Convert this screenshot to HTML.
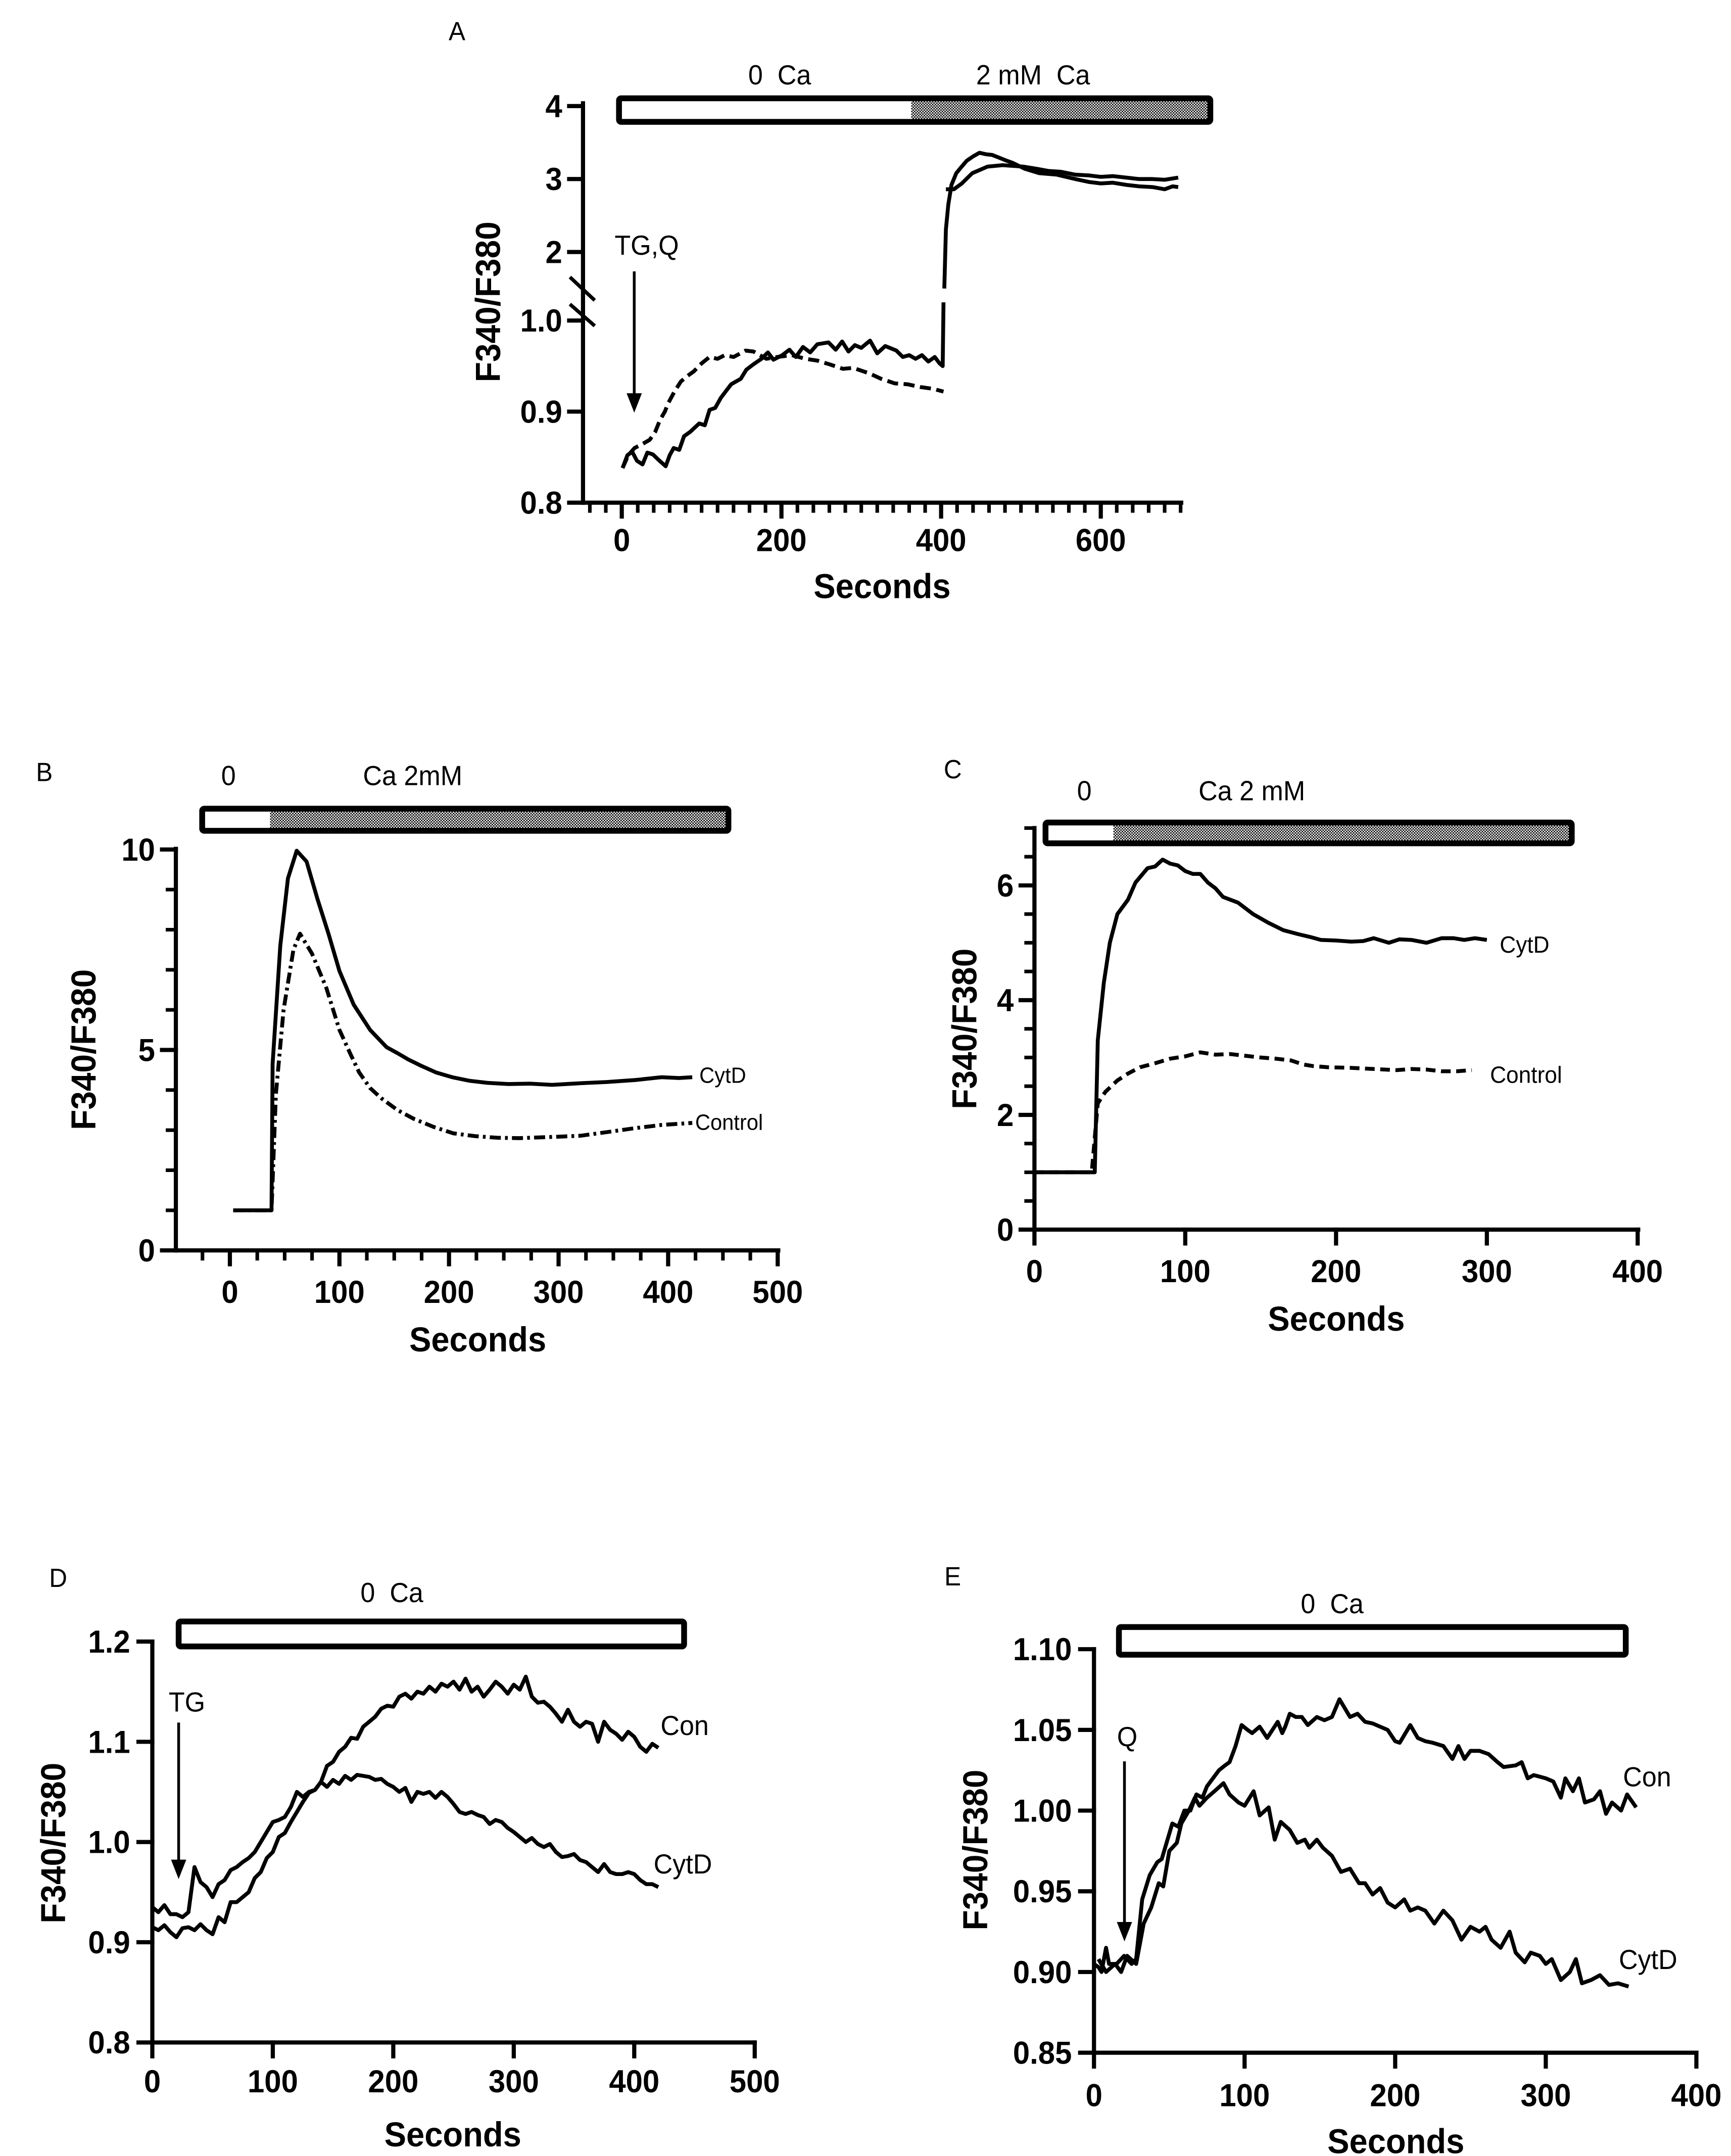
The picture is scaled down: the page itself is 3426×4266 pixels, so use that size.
<!DOCTYPE html>
<html><head><meta charset="utf-8"><title>Fura-2 ratio panels</title>
<style>
html,body{margin:0;padding:0;background:#fff;}
svg{display:block;}
text{font-family:"Liberation Sans Narrow","Liberation Sans",Arial,sans-serif;fill:#000;}
.tick{font-weight:bold;font-size:23px;}
.title{font-weight:bold;font-size:25px;}
.ann{font-size:20px;white-space:pre;}
.letter{font-size:19px;font-family:"Liberation Sans",Arial,sans-serif;}
</style></head>
<body>
<svg id="fig" xmlns="http://www.w3.org/2000/svg" width="3426" height="4266" viewBox="0 0 1250 1557" preserveAspectRatio="none">
<defs>
<pattern id="chk" width="2" height="2" patternUnits="userSpaceOnUse">
<rect width="2" height="2" fill="#fff"/><rect width="1" height="1" fill="#000"/><rect x="1" y="1" width="1" height="1" fill="#000"/>
</pattern>
</defs>
</svg>
<script>
// ---------- Panel A data ----------
const aSolidLowT=[1,7,13,19,26,32,39,46,55,60,65,72,78,86,97,104,110,117,124,130,137,149,156,165,175,183,190,201,210,218,227,236,245,259,268,276,284,292,300,311,320,330,344,352,360,368,376,384,392,398,402,403];
const aSolidLowV=[0.838,0.852,0.856,0.846,0.842,0.855,0.853,0.847,0.84,0.852,0.86,0.858,0.873,0.878,0.887,0.885,0.902,0.904,0.915,0.922,0.93,0.936,0.946,0.952,0.958,0.965,0.957,0.962,0.968,0.96,0.971,0.965,0.974,0.976,0.968,0.977,0.966,0.973,0.97,0.978,0.964,0.972,0.967,0.96,0.962,0.958,0.962,0.955,0.96,0.953,0.95,1.02];
const aSolidUpT=[404,406,409,413,419,425,432,440,448,456,464,471,480,490,505,523,545,568,585,600,615,632,648,665,680,690,697];
const aSolidUpV=[1.5,2.31,2.65,2.92,3.08,3.16,3.25,3.31,3.36,3.34,3.33,3.3,3.26,3.22,3.14,3.08,3.06,3.0,2.96,2.94,2.95,2.92,2.9,2.89,2.86,2.9,2.89];
const aDashLowT=[1,8,16,25,35,42,48,54,58,66,74,82,90,100,110,120,129,140,155,165,181,195,213,230,245,260,277,290,310,325,342,358,374,390,403];
const aDashLowV=[0.838,0.852,0.86,0.864,0.869,0.878,0.891,0.9,0.909,0.922,0.933,0.939,0.944,0.953,0.96,0.958,0.962,0.96,0.967,0.966,0.958,0.96,0.962,0.958,0.956,0.952,0.947,0.948,0.942,0.936,0.931,0.93,0.927,0.925,0.922];
const aDashUpT=[406,416,426,439,458,477,503,520,535,550,568,585,600,615,632,648,665,680,697];
const aDashUpV=[2.86,2.86,2.94,3.08,3.17,3.19,3.17,3.14,3.11,3.1,3.06,3.05,3.03,3.04,3.02,3.0,3.0,2.99,3.02];
const aTicksLow=[0.8,0.9,1.0]; const aTicksLowLbl=["0.8","0.9","1.0"];
const aTicksUp=[2,3,4]; const aTicksUpLbl=["2","3","4"];
const aXTicks=[0,200,400,600];
// ---------- Panel B data ----------
const bCytT=[3,38,39,46,53,61,70,80,90,100,113,128,143,153,163,175,188,203,219,235,254,274,294,320,344,370,394,410,422];
const bCytV=[1,1,4.65,7.6,9.28,9.97,9.7,8.76,7.9,6.97,6.13,5.5,5.07,4.92,4.76,4.6,4.44,4.32,4.23,4.18,4.15,4.16,4.13,4.17,4.2,4.25,4.32,4.3,4.32];
const bConT=[3,38,42,49,58,64,75,88,100,110,118,128,138,153,168,186,204,224,244,264,294,320,344,370,394,422];
const bConV=[1,1,3.9,6.0,7.5,7.9,7.4,6.55,5.5,4.9,4.44,4.05,3.8,3.5,3.28,3.08,2.92,2.85,2.81,2.8,2.83,2.86,2.95,3.05,3.13,3.18];
const bYTicks=[0,5,10]; const bXTicks=[0,100,200,300,400,500];
// ---------- Panel C data ----------
const cCytT=[0,40,42,46,50,55,62,67,75,80,85,90,95,100,105,110,115,120,125,135,145,155,165,175,183,190,200,210,218,225,235,242,250,260,270,278,285,292,300];
const cCytV=[1,1,3.3,4.3,5.0,5.5,5.75,6.05,6.3,6.33,6.45,6.38,6.35,6.25,6.2,6.2,6.05,5.95,5.8,5.7,5.5,5.35,5.22,5.15,5.1,5.05,5.04,5.02,5.03,5.08,5.0,5.06,5.05,5.0,5.08,5.08,5.05,5.08,5.05];
const cConT=[0,38,40,42,47,55,62,70,80,90,100,110,120,130,140,150,160,170,178,185,195,210,225,240,250,260,270,280,290];
const cConV=[1,1,1.6,2.2,2.4,2.6,2.72,2.83,2.9,2.98,3.02,3.09,3.05,3.06,3.03,3.0,2.98,2.95,2.88,2.85,2.83,2.82,2.8,2.78,2.8,2.79,2.76,2.76,2.78];
const cYTicks=[0,2,4,6]; const cXTicks=[0,100,200,300,400];
// ---------- Panel D data ----------
const dConT=[0,5,10,15,20,25,30,35,40,45,50,55,60,65,70,75,80,85,90,95,100,105,110,115,120,125,130,135,140,145,150,155,160,165,170,175,180,185,190,195,200,205,210,215,220,225,230,235,240,245,250,255,260,265,270,275,280,285,290,295,300,305,310,315,320,325,330,335,340,345,350,355,360,365,370,375,380,385,390,395,400,405,410,415,420];
const dConV=[0.915,0.912,0.917,0.91,0.905,0.914,0.915,0.912,0.918,0.912,0.908,0.925,0.92,0.94,0.94,0.945,0.95,0.964,0.97,0.984,0.99,1.005,1.009,1.02,1.03,1.04,1.049,1.052,1.06,1.076,1.08,1.09,1.095,1.104,1.103,1.115,1.12,1.125,1.133,1.136,1.135,1.145,1.148,1.143,1.15,1.148,1.155,1.15,1.158,1.155,1.16,1.152,1.163,1.15,1.155,1.145,1.152,1.16,1.155,1.148,1.157,1.152,1.165,1.145,1.139,1.14,1.135,1.128,1.12,1.132,1.12,1.115,1.12,1.118,1.1,1.12,1.112,1.108,1.102,1.11,1.105,1.095,1.09,1.098,1.094];
const dCytT=[0,5,10,15,20,25,30,35,40,45,50,55,60,65,70,75,80,85,90,95,100,105,110,115,120,125,130,135,140,145,150,155,160,165,170,175,180,185,190,195,200,205,210,215,220,225,230,235,240,245,250,255,260,265,270,275,280,285,290,295,300,305,310,315,320,325,330,335,340,345,350,355,360,365,370,375,380,385,390,395,400,405,410,415,420];
const dCytV=[0.935,0.93,0.937,0.928,0.928,0.925,0.93,0.975,0.96,0.955,0.945,0.958,0.962,0.972,0.975,0.98,0.984,0.99,1.0,1.01,1.02,1.022,1.025,1.035,1.05,1.045,1.05,1.052,1.06,1.055,1.062,1.058,1.066,1.062,1.067,1.066,1.065,1.062,1.063,1.058,1.055,1.05,1.054,1.04,1.05,1.048,1.05,1.044,1.05,1.045,1.038,1.03,1.028,1.03,1.027,1.025,1.018,1.022,1.02,1.014,1.01,1.005,1.0,1.004,0.998,0.995,0.998,0.99,0.985,0.986,0.988,0.982,0.98,0.975,0.97,0.978,0.97,0.968,0.968,0.97,0.968,0.962,0.958,0.958,0.955];
const dYTicks=[0.8,0.9,1.0,1.1,1.2]; const dYLbl=["0.8","0.9","1.0","1.1","1.2"];
const dXTicks=[0,100,200,300,400,500];
// ---------- Panel E data ----------
const eConT=[0,3,5,8,10,15,20,25,28,32,37,42,45,52,56,60,64,68,72,75,79,83,87,90,94,98,102,105,110,115,122,125,127,130,134,138,142,148,153,158,163,170,175,180,185,190,195,200,203,210,215,220,225,232,238,242,246,250,256,262,268,272,280,284,288,292,300,305,310,313,318,322,326,332,336,340,344,350,354,360];
const eConV=[0.905,0.903,0.9,0.915,0.905,0.905,0.91,0.905,0.908,0.945,0.96,0.968,0.97,0.992,0.99,1.0,1.0,1.01,1.008,1.015,1.02,1.025,1.028,1.03,1.04,1.053,1.05,1.048,1.052,1.045,1.055,1.048,1.052,1.06,1.058,1.058,1.053,1.058,1.056,1.058,1.069,1.058,1.06,1.055,1.054,1.052,1.05,1.043,1.042,1.053,1.045,1.043,1.042,1.04,1.032,1.04,1.032,1.037,1.037,1.035,1.03,1.027,1.028,1.03,1.02,1.022,1.02,1.018,1.008,1.02,1.012,1.02,1.005,1.007,1.012,0.998,1.005,1.0,1.01,1.002];
const eCytT=[3,8,14,18,22,28,33,38,43,46,50,55,58,63,67,70,75,80,86,90,96,100,106,110,116,120,124,130,135,140,143,148,152,158,164,170,176,180,185,190,195,200,206,210,215,220,226,232,238,244,250,256,260,264,270,276,280,286,290,296,300,304,310,316,320,324,330,336,342,348,355];
const eCytV=[0.908,0.9,0.905,0.9,0.91,0.905,0.93,0.94,0.955,0.953,0.975,0.98,0.992,1.0,1.008,1.003,1.008,1.012,1.017,1.01,1.005,1.003,1.012,0.997,1.002,0.982,0.993,0.988,0.98,0.982,0.977,0.982,0.977,0.972,0.962,0.964,0.955,0.955,0.948,0.952,0.943,0.94,0.945,0.938,0.94,0.938,0.93,0.938,0.932,0.92,0.928,0.925,0.928,0.92,0.915,0.925,0.912,0.906,0.912,0.91,0.905,0.908,0.895,0.9,0.908,0.893,0.895,0.898,0.892,0.893,0.891];
const eYTicks=[0.85,0.9,0.95,1.0,1.05,1.1]; const eYLbl=["0.85","0.90","0.95","1.00","1.05","1.10"];
const eXTicks=[0,100,200,300,400];

// ---------- axis functions ----------
const xA=t=>449+t*0.5765;
const yA=v=>v<=1.1?363-(v-0.8)*657.5:182-(v-2)*52.7;
const xB=t=>166+t*0.7912;
const yB=v=>903-v*28.95;
const xC=t=>747+t*1.089;
const yC=v=>888-v*41.43;
const xD=t=>110+t*0.87;
const yD=v=>1475-(v-0.8)*723.75;
const xE=t=>790+t*1.0875;
const yE=v=>1482.4-(v-0.85)*1165.6;

const NS="http://www.w3.org/2000/svg";
const svg=document.getElementById('fig');
function mk(tag,attrs,parent){const e=document.createElementNS(NS,tag);for(const k in attrs)e.setAttribute(k,attrs[k]);(parent||svg).appendChild(e);return e;}
function group(name){const g=mk('g',{});


return g;}
function ln(g,x1,y1,x2,y2,w){return mk('line',{x1,y1,x2,y2,stroke:'#000','stroke-width':w,'stroke-linecap':'square'},g);}
function txt(g,x,y,s,cls,anchor,name){const t=mk('text',{x:0,y:0,transform:`translate(${x},${y}) scale(0.95,1)`,'class':cls,'text-anchor':anchor||'middle'},g);t.textContent=s;


return t;}
function series(g,T,V,fx,fy,dash,name){
  const pts=T.map((t,i)=>fx(t).toFixed(2)+','+fy(V[i]).toFixed(2)).join(' ');
  const p=mk('polyline',{points:pts,fill:'none',stroke:'#000','stroke-width':2.8,'stroke-linejoin':'round'},g);
  if(dash)p.setAttribute('stroke-dasharray',dash);
  
  
  return p;}
function bar(g,x1,x2,y1,y2,split,name){
  const b=group(name);g.appendChild(b);
  if(split!==null){
    mk('rect',{x:split,y:y1,width:x2-split,height:y2-y1,fill:'url(#chk)'},b);
  }
  mk('rect',{x:x1,y:y1,width:x2-x1,height:y2-y1,fill:'none',stroke:'#000','stroke-width':4.2,rx:1.5},b);
  return b;}
function xAxis(g,fx,y,x1,x2,major,minor,lblY){
  const ax=group('x-axis');g.appendChild(ax);
  ln(ax,x1,y,x2,y,3);
  (minor||[]).forEach(t=>ln(ax,fx(t),y,fx(t),y+6,2.6));
  major.forEach(t=>{ln(ax,fx(t),y,fx(t),y+10,3);txt(ax,fx(t),lblY,String(t),'tick','middle','x-tick-label');});
}
function yAxis(g,fy,x,y1,y2,vals,lbls,minor,lblX){
  const ax=group('y-axis');g.appendChild(ax);
  ln(ax,x,y1,x,y2,3);
  (minor||[]).forEach(v=>ln(ax,x,fy(v),x-6,fy(v),2.6));
  vals.forEach((v,i)=>{ln(ax,x,fy(v),x-10,fy(v),3);txt(ax,lblX,fy(v)+8,lbls[i],'tick','end','y-tick-label');});
}
function ytitle(g,cx,cy){const t=mk('text',{x:0,y:0,'class':'title','text-anchor':'middle',transform:`translate(${cx},${cy}) rotate(-90) scale(0.96,1)`},g);t.textContent='F340/F380';

}
function arrow(g,x,y1,y2,name){const a=group(name);g.appendChild(a);
  ln(a,x,y1,x,y2-12,2);mk('polygon',{points:`${x-5.5},${y2-14} ${x+5.5},${y2-14} ${x},${y2}`,fill:'#000'},a);}
function range(a,b,s){const r=[];for(let v=a;v<=b+1e-9;v+=s)r.push(+v.toFixed(4));return r;}

// ===== Panel A =====
const gA=group('panel-a');
txt(gA,330,29,'A','letter','middle','panel-label-a');
bar(gA,447,874,71,88,658,'solution-bar-a');
txt(gA,563,61,'0  Ca','ann','middle','zero-ca-label');
txt(gA,746,61,'2 mM  Ca','ann','middle','two-mm-ca-label');
yAxis(gA,yA,421,363,74.6,aTicksLow.concat(aTicksUp),aTicksLowLbl.concat(aTicksUpLbl),[],406);
ln(gA,412.5,201,428.5,216,2.6);
ln(gA,412.5,220.5,428.5,234.5,2.6);
xAxis(gA,xA,363,421,853,aXTicks,range(-40,700,20),398);
txt(gA,637,432,'Seconds','title','middle','x-axis-title');
ytitle(gA,361,218);
txt(gA,467,184,'TG,Q','ann','middle','tg-q-label');
arrow(gA,458,197,298,'tg-q-arrow');
series(gA,aDashLowT,aDashLowV,xA,yA,'8 4','series-dashed-low');
series(gA,aDashUpT,aDashUpV,xA,yA,null,'series-dashed-high');
series(gA,aSolidLowT,aSolidLowV,xA,yA,null,'series-solid-low');
series(gA,aSolidUpT,aSolidUpV,xA,yA,null,'series-solid-high');

// ===== Panel B =====
const gB=group('panel-b');
txt(gB,32,564,'B','letter','middle','panel-label-b');
bar(gB,146,526,584,600,195,'solution-bar-b');
txt(gB,165,567,'0','ann','middle','zero-label');
txt(gB,298,567,'Ca 2mM','ann','middle','ca-2mm-label');
yAxis(gB,yB,127,903,613,bYTicks,bYTicks.map(String),range(0,10,1),112);
xAxis(gB,xB,903,127,562,bXTicks,range(-25,500,25),941);
txt(gB,345,976,'Seconds','title','middle','x-axis-title');
ytitle(gB,69,758);
series(gB,bConT,bConV,xB,yB,'8 3 2 3','series-control');
series(gB,bCytT,bCytV,xB,yB,null,'series-cytd');
txt(gB,505,782,'CytD','ann','start','cytd-label').setAttribute('style','font-size:16px');
txt(gB,502,816,'Control','ann','start','control-label').setAttribute('style','font-size:16px');

// ===== Panel C =====
const gC=group('panel-c');
txt(gC,688,562,'C','letter','middle','panel-label-c');
bar(gC,755,1135,594,609,804,'solution-bar-c');
txt(gC,783,578,'0','ann','middle','zero-label');
txt(gC,904,578,'Ca 2 mM','ann','middle','ca-2mm-label');
yAxis(gC,yC,747,888,598,cYTicks,cYTicks.map(String),range(0,7,0.5),732);
xAxis(gC,xC,888,747,1183,cXTicks,[],926);
txt(gC,965,961,'Seconds','title','middle','x-axis-title');
ytitle(gC,705,743);
series(gC,cConT,cConV,xC,yC,'7 4','series-control');
series(gC,cCytT,cCytV,xC,yC,null,'series-cytd');
txt(gC,1083,688,'CytD','ann','start','cytd-label').setAttribute('style','font-size:17px');
txt(gC,1076,782,'Control','ann','start','control-label').setAttribute('style','font-size:17px');

// ===== Panel D =====
const gD=group('panel-d');
txt(gD,42,1146,'D','letter','middle','panel-label-d');
bar(gD,129,494,1171,1189,null,'solution-bar-d');
txt(gD,283,1157,'0  Ca','ann','middle','zero-ca-label');
yAxis(gD,yD,110,1475,1185.5,dYTicks,dYLbl,[],94);
xAxis(gD,xD,1475,110,545,dXTicks,[],1511);
txt(gD,327,1550,'Seconds','title','middle','x-axis-title');
ytitle(gD,47,1331);
txt(gD,135,1236,'TG','ann','middle','tg-label');
arrow(gD,129,1245,1357,'tg-arrow');
series(gD,dConT,dConV,xD,yD,null,'series-con');
series(gD,dCytT,dCytV,xD,yD,null,'series-cytd');
txt(gD,477,1253,'Con','ann','start','con-label');
txt(gD,472,1353,'CytD','ann','start','cytd-label');

// ===== Panel E =====
const gE=group('panel-e');
txt(gE,688,1145,'E','letter','middle','panel-label-e');
bar(gE,808,1174,1175,1195,null,'solution-bar-e');
txt(gE,962,1165,'0  Ca','ann','middle','zero-ca-label');
yAxis(gE,yE,790,1482.4,1191,eYTicks,eYLbl,[],774);
xAxis(gE,xE,1482.4,790,1225,eXTicks,[],1521);
txt(gE,1008,1555,'Seconds','title','middle','x-axis-title');
ytitle(gE,713,1336);
txt(gE,814,1261,'Q','ann','middle','q-label');
arrow(gE,812,1273,1402,'q-arrow');
series(gE,eConT,eConV,xE,yE,null,'series-con');
series(gE,eCytT,eCytV,xE,yE,null,'series-cytd');
txt(gE,1172,1290,'Con','ann','start','con-label');
txt(gE,1169,1422,'CytD','ann','start','cytd-label');
</script>
</body></html>
